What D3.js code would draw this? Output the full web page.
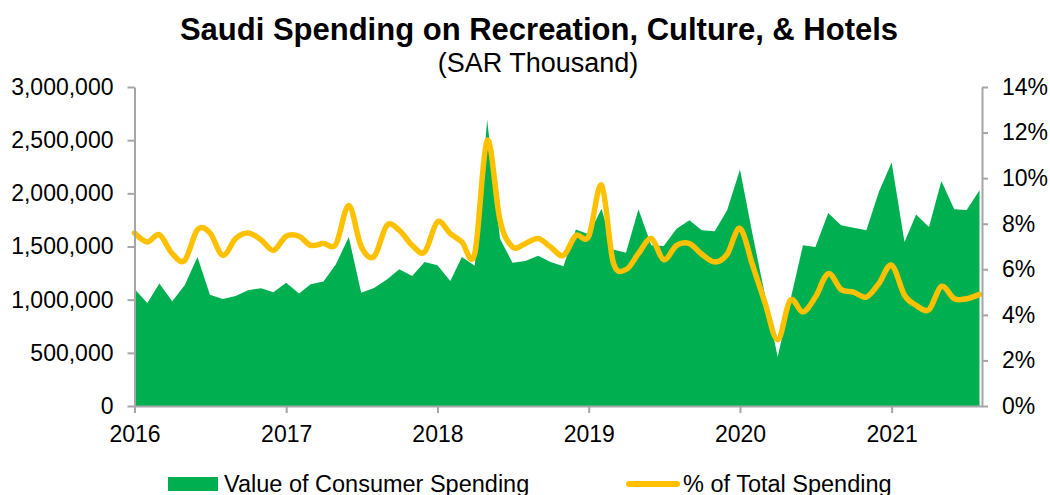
<!DOCTYPE html>
<html>
<head>
<meta charset="utf-8">
<script src="https://cdn.jsdelivr.net/npm/d3@7"></script>
<style>
  body { margin: 0; background: #fff; }
  text { font-family: "Liberation Sans", Arial, sans-serif; fill: #000; }
</style>
</head>
<body>
<svg id="chart" width="1050" height="495"></svg>
<script>
// monthly, Jan 2016 .. Aug 2021
const firstMonth = '2016-01';

const spending = [
  1100000, 968000, 1151000, 985000, 1135000, 1401000, 1047000, 1006000, 1034000, 1088000, 1107000, 1069000,
  1160000, 1057000, 1144000, 1170000, 1333000, 1589000, 1066000, 1110000, 1189000, 1286000, 1223000, 1354000,
  1323000, 1176000, 1401000, 1320000, 2693000, 1574000, 1348000, 1364000, 1414000, 1354000, 1314000, 1659000,
  1615000, 1856000, 1471000, 1442000, 1850000, 1511000, 1505000, 1668000, 1746000, 1652000, 1643000, 1840000,
  2223000, 1600000, 1050000, 461000, 987000, 1511000, 1495000, 1815000, 1699000, 1677000, 1652000, 2013000,
  2289000, 1542000, 1800000, 1683000, 2116000, 1850000, 1843000, 2028000
];

const share = [
  7.59, 7.20, 7.52, 6.69, 6.39, 7.74, 7.60, 6.61, 7.35, 7.59, 7.30, 6.83,
  7.45, 7.45, 7.05, 7.13, 7.10, 8.80, 7.00, 6.56, 7.93, 7.71, 7.05, 6.76,
  8.08, 7.57, 7.20, 6.69, 11.66, 8.15, 6.98, 7.13, 7.35, 6.98, 6.61, 7.48,
  7.45, 9.69, 6.32, 5.99, 6.69, 7.35, 6.42, 7.05, 7.13, 6.66, 6.32, 6.66,
  7.79, 6.15, 4.55, 2.91, 4.64, 4.13, 4.78, 5.81, 5.11, 5.00, 4.78, 5.37,
  6.18, 4.86, 4.42, 4.23, 5.25, 4.71, 4.71, 4.90
];

const yearTicks = ['2016', '2017', '2018', '2019', '2020', '2021'];
const leftTicks = [0, 500000, 1000000, 1500000, 2000000, 2500000, 3000000];
const rightTicks = [0, 2, 4, 6, 8, 10, 12, 14];

const seriesNames = ['Value of Consumer Spending', '% of Total Spending'];

const green = '#00b050', yellow = '#ffc000', axisGrey = '#a6a6a6';

const svg = d3.select('#chart');

const plot = { left: 134.5, right: 982, top: 87, bottom: 406 };

const start = d3.utcParse('%Y-%m')(firstMonth);
const dates = spending.map((d, i) => d3.utcMonth.offset(start, i));

const x = d3.scaleUtc()
  .domain([start, d3.utcDay.offset(dates[dates.length - 1], 6)])
  .range([plot.left, plot.right]);

const yL = d3.scaleLinear().domain([0, 3000000]).range([plot.bottom, plot.top]);
const yR = d3.scaleLinear().domain([0, 14]).range([plot.bottom, plot.top]);

const rows = dates.map((d, i) => ({ date: d, value: spending[i], pct: share[i] }));

// area
const area = d3.area()
  .x(d => x(d.date))
  .y0(plot.bottom)
  .y1(d => yL(d.value));

svg.append('path')
  .datum(rows)
  .attr('d', area)
  .attr('fill', green);

// smoothed % line
const line = d3.line()
  .x(d => x(d.date))
  .y(d => yR(d.pct))
  .curve(d3.curveCatmullRom.alpha(0));

svg.append('path')
  .datum(rows)
  .attr('d', line)
  .attr('fill', 'none')
  .attr('stroke', yellow)
  .attr('stroke-width', 5.5)
  .attr('stroke-linejoin', 'round')
  .attr('stroke-linecap', 'round');

// axes
const styleAxis = g => {
  g.select('.domain').attr('stroke', axisGrey).attr('stroke-width', 2);
  g.selectAll('.tick line').attr('stroke', axisGrey).attr('stroke-width', 2);
  g.selectAll('.tick text').style('font-size', '23px').attr('fill', '#000');
};

svg.append('g')
  .attr('transform', 'translate(' + plot.left + ',0)')
  .call(d3.axisLeft(yL).tickValues(leftTicks).tickFormat(d3.format(',')).tickSize(7).tickSizeOuter(0).tickPadding(14))
  .call(styleAxis);

svg.append('g')
  .attr('transform', 'translate(' + plot.right + ',0)')
  .call(d3.axisRight(yR).tickValues(rightTicks).tickFormat(d => d + '%').tickSize(6).tickSizeOuter(0).tickPadding(14))
  .call(styleAxis);

const yearDates = yearTicks.map(d3.utcParse('%Y'));

svg.append('g')
  .attr('transform', 'translate(0,' + plot.bottom + ')')
  .call(d3.axisBottom(x).tickValues(yearDates).tickFormat(d3.utcFormat('%Y')).tickSize(7).tickSizeOuter(0).tickPadding(13))
  .call(styleAxis);

// titles
svg.append('text')
  .attr('x', 539).attr('y', 40)
  .attr('text-anchor', 'middle')
  .style('font-size', '31px').style('font-weight', 'bold')
  .text('Saudi Spending on Recreation, Culture, & Hotels');

svg.append('text')
  .attr('x', 538).attr('y', 72)
  .attr('text-anchor', 'middle')
  .style('font-size', '27px')
  .text('(SAR Thousand)');

// legend
const legend = svg.append('g');

legend.append('rect')
  .attr('x', 168).attr('y', 477).attr('width', 50).attr('height', 14)
  .attr('fill', green);

legend.append('text')
  .attr('x', 224).attr('y', 492)
  .style('font-size', '23.5px')
  .text(seriesNames[0]);

legend.append('line')
  .attr('x1', 629).attr('x2', 677).attr('y1', 484).attr('y2', 484)
  .attr('stroke', yellow).attr('stroke-width', 6).attr('stroke-linecap', 'round');

legend.append('text')
  .attr('x', 683).attr('y', 492)
  .style('font-size', '23.5px')
  .text(seriesNames[1]);
</script>
</body>
</html>
